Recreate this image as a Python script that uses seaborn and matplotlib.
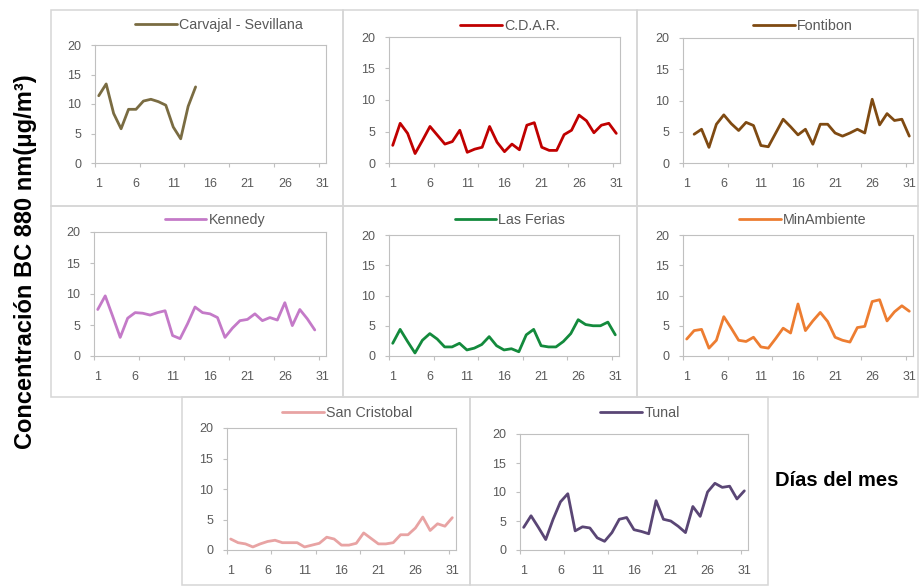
import matplotlib
matplotlib.use("Agg")
import numpy as np
import pandas as pd
import matplotlib.pyplot as plt
from matplotlib.patches import Rectangle
import seaborn as sns

# Daily black-carbon concentration (BC 880 nm, µg/m3) per monitoring station
DAYS = list(range(1, 32))

carvajal = [11.4, 13.4, 8.4, 5.8, 9.1, 9.1, 10.5, 10.8, 10.4, 9.8, 6.1, 4.1, 9.6, 12.9]
cdar = [2.8, 6.3, 4.7, 1.5, 3.6, 5.8, 4.4, 3.0, 3.4, 5.2, 1.7, 2.2, 2.5, 5.8, 3.3,
        1.8, 3.0, 2.1, 6.0, 6.4, 2.5, 2.0, 2.0, 4.5, 5.2, 7.6, 6.7, 4.8, 6.0, 6.3, 4.7]
fontibon = [None, 4.6, 5.4, 2.5, 6.2, 7.7, 6.3, 5.2, 6.5, 6.0, 2.8, 2.6, 4.8, 7.0, 5.8,
            4.5, 5.4, 3.0, 6.2, 6.2, 4.8, 4.3, 4.8, 5.4, 4.8, 10.2, 6.1, 7.9, 6.8, 7.0, 4.3]
kennedy = [7.5, 9.7, 6.4, 3.0, 6.1, 7.0, 6.9, 6.6, 7.0, 7.3, 3.3, 2.8, 5.2, 7.9, 7.0,
           6.8, 6.2, 3.0, 4.5, 5.7, 5.9, 6.8, 5.7, 6.2, 5.8, 8.6, 4.9, 7.5, 6.0, 4.2]
las_ferias = [2.1, 4.4, 2.4, 0.5, 2.6, 3.7, 2.8, 1.5, 1.5, 2.1, 1.0, 1.3, 1.9, 3.2, 1.7,
              1.0, 1.2, 0.7, 3.5, 4.4, 1.7, 1.5, 1.5, 2.4, 3.7, 6.0, 5.2, 5.0, 5.0, 5.6, 3.5]
minambiente = [2.8, 4.2, 4.4, 1.3, 2.6, 6.5, 4.6, 2.6, 2.4, 3.1, 1.5, 1.3, 2.9, 4.6, 3.8,
               8.6, 4.2, 5.8, 7.2, 5.7, 3.1, 2.6, 2.3, 4.7, 4.9, 9.0, 9.3, 5.8, 7.3, 8.3, 7.4]
san_cristobal = [1.8, 1.2, 1.0, 0.5, 1.0, 1.4, 1.6, 1.2, 1.2, 1.2, 0.5, 0.8, 1.1, 2.1, 1.8,
                 0.8, 0.8, 1.1, 2.8, 1.9, 1.0, 1.0, 1.2, 2.5, 2.5, 3.6, 5.4, 3.2, 4.3, 3.9, 5.3]
tunal = [3.9, 5.9, 3.9, 1.8, 5.3, 8.3, 9.7, 3.3, 4.0, 3.8, 2.1, 1.5, 3.0, 5.3, 5.6,
         3.5, 3.2, 2.8, 8.5, 5.3, 5.0, 4.1, 3.0, 7.5, 5.8, 10.0, 11.5, 10.8, 11.0, 8.8, 10.2]

STATIONS = ["Carvajal - Sevillana", "C.D.A.R.", "Fontibon", "Kennedy",
            "Las Ferias", "MinAmbiente", "San Cristobal", "Tunal"]
SERIES = [carvajal, cdar, fontibon, kennedy, las_ferias, minambiente, san_cristobal, tunal]
COLORS = ["#7a6c42", "#c00000", "#7f4a12", "#c47ac8",
          "#138a3c", "#ed7d31", "#e8a3a3", "#5a4675"]

X_TICKS = [1, 6, 11, 16, 21, 26, 31]
Y_TICKS = [0, 5, 10, 15, 20]

W, H = 919, 586

# Pixel layout: plot area (left, top, right, bottom), chart frame, legend centre
PLOT_BOXES = [(95, 45, 326, 163), (389, 37, 620, 163), (683, 38, 913, 163),
              (94, 232, 326, 356), (389, 235, 619, 356), (683, 235, 913, 356),
              (227, 428, 456, 550), (520, 434, 748, 550)]
FRAMES = [(51, 10, 343, 206), (343, 10, 637, 206), (637, 10, 918, 206),
          (51, 206, 343, 397), (343, 206, 637, 397), (637, 206, 918, 397),
          (182, 397, 470, 585), (470, 397, 768, 585)]
LEGEND_POS = [(219, 25), (510, 26), (803, 26), (215, 220), (510, 220),
              (803, 220), (347, 413), (640, 413)]

sns.set_style("white")
plt.rcParams["font.family"] = ["Liberation Sans", "DejaVu Sans"]

fig = plt.figure(figsize=(W / 100, H / 100), dpi=100)
fig.patch.set_facecolor("white")

frame_color = "#d6d6d6"
axis_color = "#c0c0c0"
text_color = "#595959"

for (l, t, r, b) in FRAMES:
    fig.add_artist(Rectangle((l / W, 1 - b / H), (r - l) / W, (b - t) / H,
                             transform=fig.transFigure, fill=False,
                             edgecolor=frame_color, linewidth=1.1))

for name, values, color, box, leg in zip(STATIONS, SERIES, COLORS, PLOT_BOXES, LEGEND_POS):
    l, t, r, b = box
    ax = fig.add_axes([l / W, 1 - b / H, (r - l) / W, (b - t) / H])
    vals = list(values) + [None] * (len(DAYS) - len(values))
    df = pd.DataFrame({"dia": DAYS, "valor": pd.to_numeric(pd.Series(vals), errors="coerce")})
    sns.lineplot(data=df, x="dia", y="valor", ax=ax, color=color,
                 linewidth=2.0, label=name)

    ax.set_xlim(0.5, 31.5)
    ax.set_ylim(0, 20)
    ax.set_xticks(X_TICKS)
    ax.set_xticks([0.5 + 6 * k for k in range(6)], minor=True)
    ax.set_yticks(Y_TICKS)
    ax.set_xlabel("")
    ax.set_ylabel("")
    ax.tick_params(axis="x", which="major", length=0, pad=11,
                   labelsize=9, labelcolor=text_color)
    ax.tick_params(axis="x", which="minor", length=3, width=0.8,
                   color=axis_color, direction="out", bottom=True)
    ax.tick_params(axis="y", which="major", length=3, width=0.8, pad=7,
                   color=axis_color, direction="out", left=True,
                   labelsize=9, labelcolor=text_color)
    for sp in ax.spines.values():
        sp.set_visible(True)
        sp.set_color(axis_color)
        sp.set_linewidth(0.8)

    ax.legend(loc="center", bbox_to_anchor=(leg[0] / W, 1 - leg[1] / H),
              bbox_transform=fig.transFigure, frameon=False,
              handlelength=2.9, handletextpad=0.15, fontsize=10.3,
              labelcolor=text_color, borderpad=0, borderaxespad=0)

fig.text(26 / W, 1 - 262 / H, "Concentración BC 880 nm(μg/m³)", rotation=90,
         fontsize=17, fontweight="bold", ha="center", va="center", color="black")
fig.text(775 / W, 1 - 480 / H, "Días del mes", fontsize=14.5, fontweight="bold",
         ha="left", va="center", color="black")

fig.savefig("out.png", dpi=100, facecolor="white")
